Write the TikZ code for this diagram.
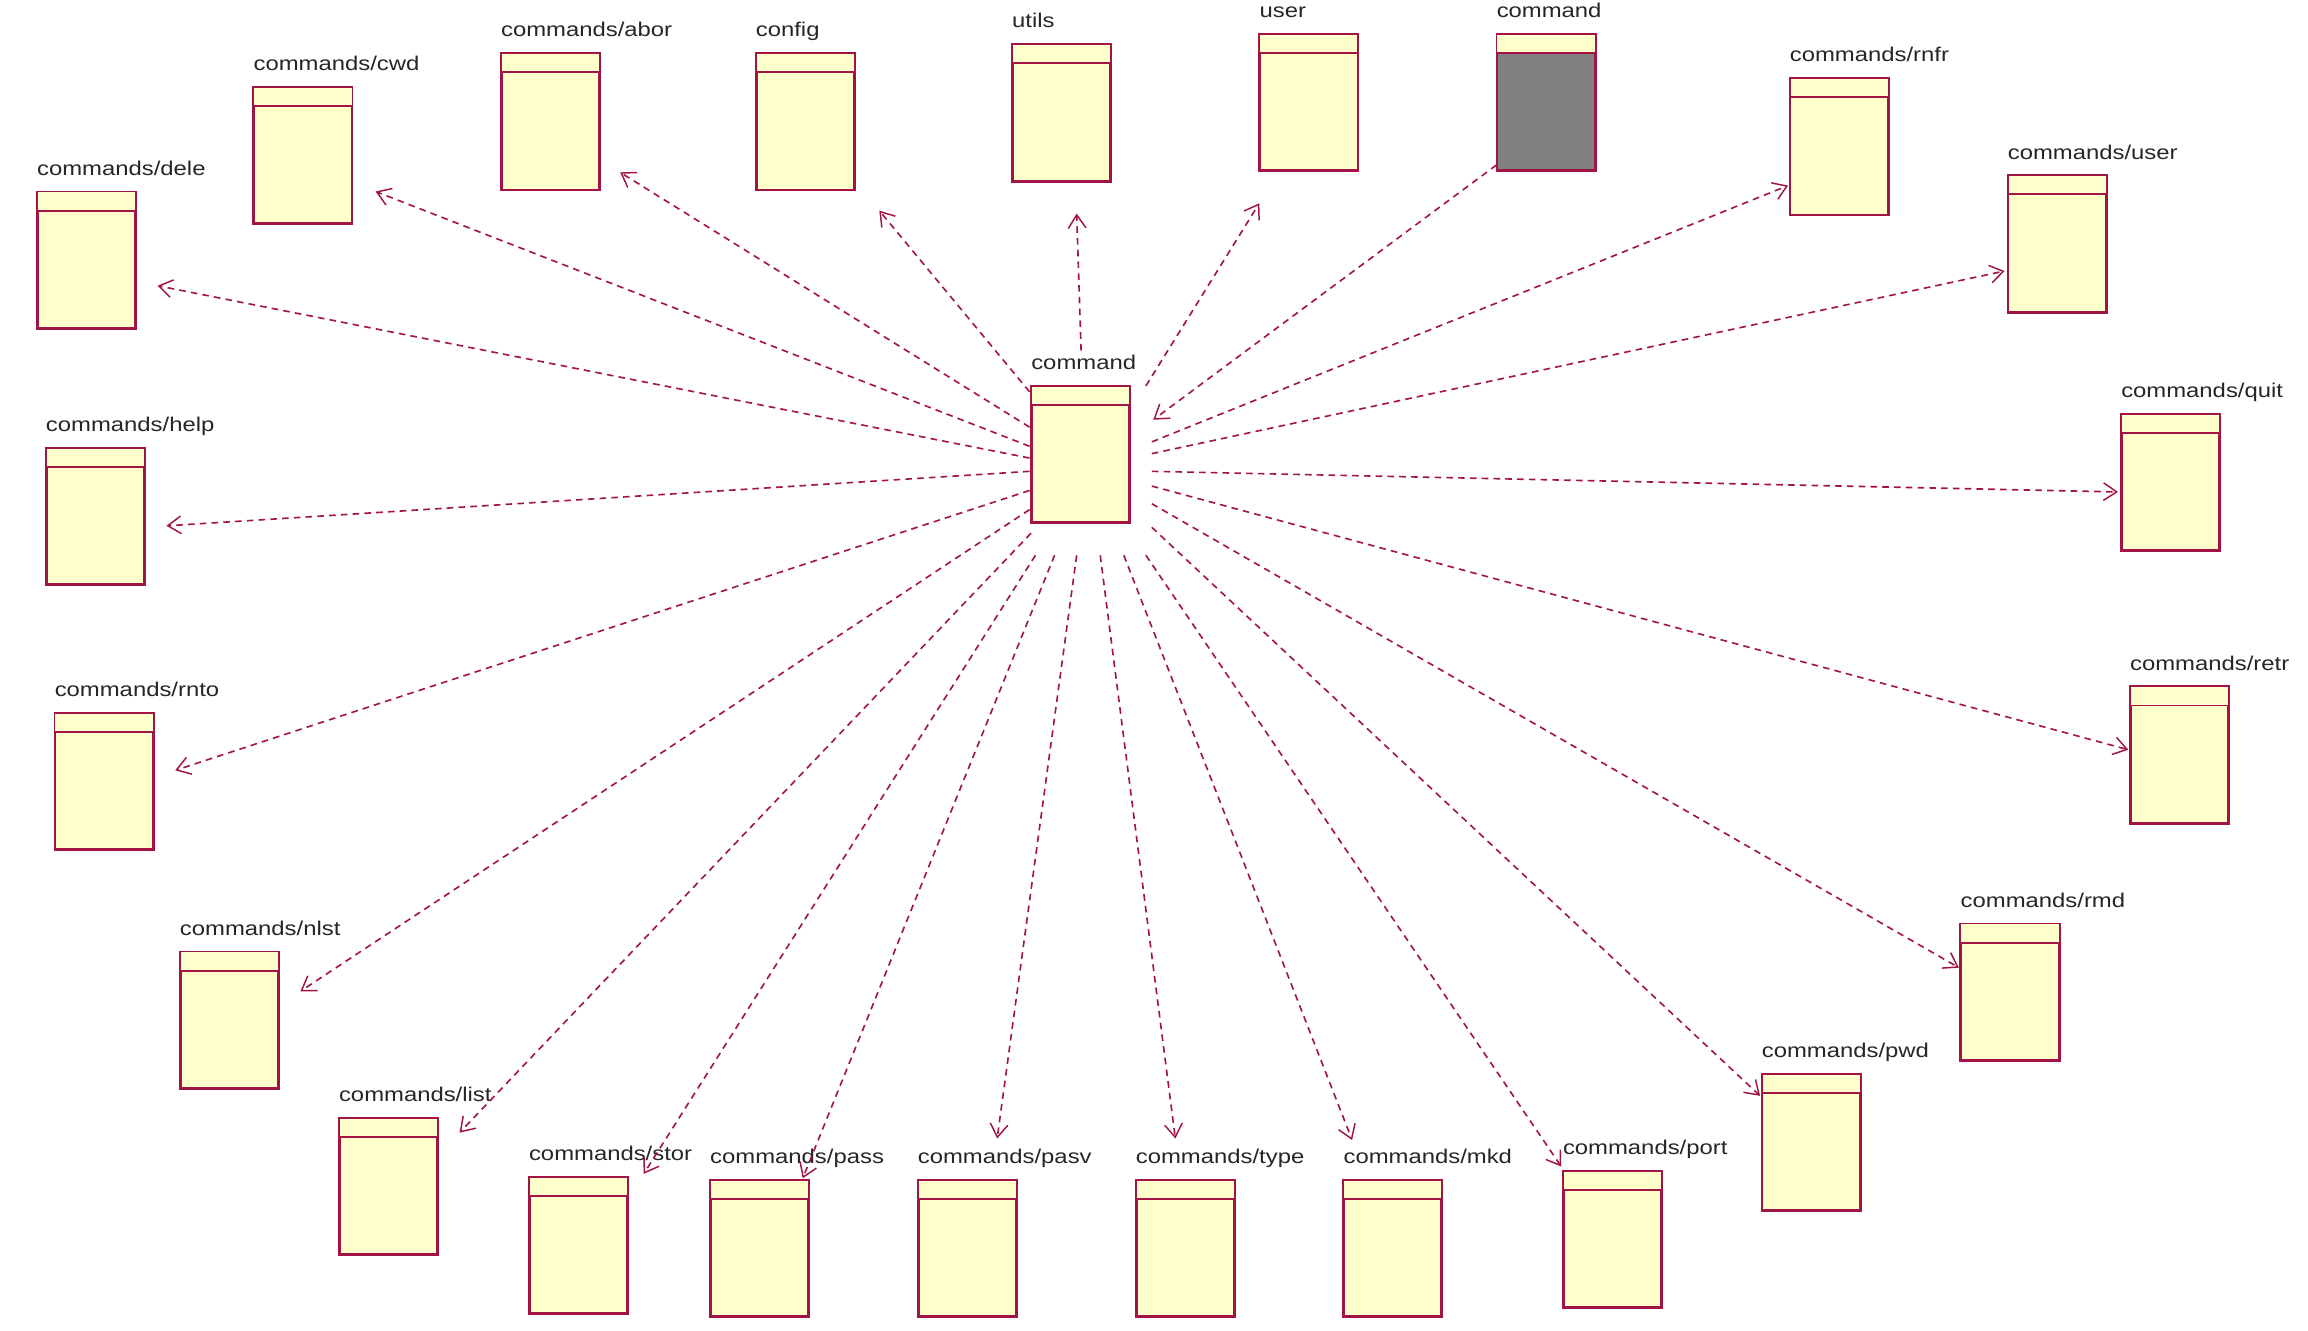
\documentclass[tikz,border=0pt]{standalone}
\usepackage{fontspec}
\newfontfamily\lblfont[FakeStretch=1.2]{Liberation Sans}
\usetikzlibrary{arrows.meta,calc}
\definecolor{rred}{RGB}{163,20,70}
\definecolor{cream}{HTML}{FFFFCC}
\definecolor{gbody}{HTML}{808080}
\tikzset{
  clsbox/.style={draw=rred, fill=cream, line width=1.3pt, rectangle, inner sep=0pt,
    minimum width=66pt, minimum height=92pt, anchor=north west},
  lbl/.style={font=\lblfont\fontsize{13.5}{15}\selectfont, inner sep=0pt, anchor=base west, text=black!85},
  sepline/.style={draw=rred, line width=1.3pt},
  dep/.style={draw=rred, line width=1.1pt, dash pattern=on 4.5pt off 3.5pt,
    -{Straight Barb[length=9pt,width=12pt,line width=1pt]}},
}
\newcommand{\umlclass}[5][cream]{%
  \node[clsbox, fill=#1] (#2) at (#3,#4) {};
  \fill[cream] (#2.north west) rectangle ([yshift=-13pt]#2.north east);
  \draw[rred, line width=1.3pt] (#2.north west) rectangle (#2.south east);
  \draw[sepline] ([yshift=-13pt]#2.north west) -- ([yshift=-13pt]#2.north east);
  \node[lbl] (#2-label) at ([yshift=11pt]#2.north west) {#5};
}
\begin{document}
\begin{tikzpicture}[x=1pt,y=-1pt]
\useasboundingbox[fill=white] (0,0) rectangle (1567,903);
% classes
\umlclass{cmd}{700}{262}{command}
\umlclass{cwd}{172}{59}{commands/cwd}
\umlclass{abor}{340}{36}{commands/abor}
\umlclass{config}{513}{36}{config}
\umlclass{utils}{687}{30}{utils}
\umlclass{user}{855}{23}{user}
\umlclass[gbody]{gcmd}{1016}{23}{command}
\umlclass{rnfr}{1215}{53}{commands/rnfr}
\umlclass{cuser}{1363}{119}{commands/user}
\umlclass{quit}{1440}{281}{commands/quit}
\umlclass{retr}{1446}{466}{commands/retr}
\umlclass{rmd}{1331}{627}{commands/rmd}
\umlclass{pwd}{1196}{729}{commands/pwd}
\umlclass{port}{1061}{795}{commands/port}
\umlclass{mkd}{912}{801}{commands/mkd}
\umlclass{type}{771}{801}{commands/type}
\umlclass{pasv}{623}{801}{commands/pasv}
\umlclass{pass}{482}{801}{commands/pass}
\umlclass{stor}{359}{799}{commands/stor}
\umlclass{list}{230}{759}{commands/list}
\umlclass{nlst}{122}{646}{commands/nlst}
\umlclass{rnto}{37}{484}{commands/rnto}
\umlclass{help}{31}{304}{commands/help}
\umlclass{dele}{25}{130}{commands/dele}
% dependencies
\draw[dep] ($(cmd.north west)+(-1,4)$)  -- ($(config.north west)+(84,107)$);
\draw[dep] ($(cmd.north west)+(-1,28)$) -- ($(abor.north west)+(81,81)$);
\draw[dep] ($(cmd.north west)+(-1,41)$) -- ($(cwd.north west)+(83,71)$);
\draw[dep] ($(cmd.north west)+(-1,49)$) -- ($(dele.north west)+(82,64)$);
\draw[dep] ($(cmd.north west)+(-1,58)$) -- ($(help.north west)+(82,53)$);
\draw[dep] ($(cmd.north west)+(-1,71)$) -- ($(rnto.north west)+(82,39)$);
\draw[dep] ($(cmd.north west)+(-1,84)$) -- ($(nlst.north west)+(82,27)$);
\draw[dep] ($(cmd.north west)+(0,100)$) -- ($(list.north west)+(82,10)$);
\draw[dep] ($(cmd.north west)+(3,115)$) -- ($(stor.north west)+(78,-2)$);
\draw[dep] ($(cmd.north west)+(16,115)$) -- ($(pass.north west)+(63,-1)$);
\draw[dep] ($(cmd.north west)+(31,115)$) -- ($(pasv.north west)+(54,-28)$);
\draw[dep] ($(cmd.north west)+(47,115)$) -- ($(type.north west)+(27,-28)$);
\draw[dep] ($(cmd.north west)+(63,115)$) -- ($(mkd.north west)+(6,-27)$);
\draw[dep] ($(cmd.north west)+(78,115)$) -- ($(port.north west)+(-1,-3)$);
\draw[dep] ($(cmd.north west)+(82,96)$) -- ($(pwd.north west)+(-1,15)$);
\draw[dep] ($(cmd.north west)+(82,80)$) -- ($(rmd.north west)+(-1,30)$);
\draw[dep] ($(cmd.north west)+(82,68)$) -- ($(retr.north west)+(-1,43)$);
\draw[dep] ($(cmd.north west)+(82,58)$) -- ($(quit.north west)+(-2,53)$);
\draw[dep] ($(cmd.north west)+(82,46)$) -- ($(cuser.north west)+(-2,65)$);
\draw[dep] ($(cmd.north west)+(82,38)$) -- ($(rnfr.north west)+(-1,73)$);
\draw[dep] ($(gcmd.north west)+(0,89)$) -- ($(cmd.north west)+(83,23)$);
\draw[dep] ($(cmd.north west)+(78,0)$) -- ($(user.north west)+(0,115)$);
\draw[dep] ($(cmd.north west)+(34,-24)$) -- ($(utils.north west)+(44,115)$);
\end{tikzpicture}
\end{document}
